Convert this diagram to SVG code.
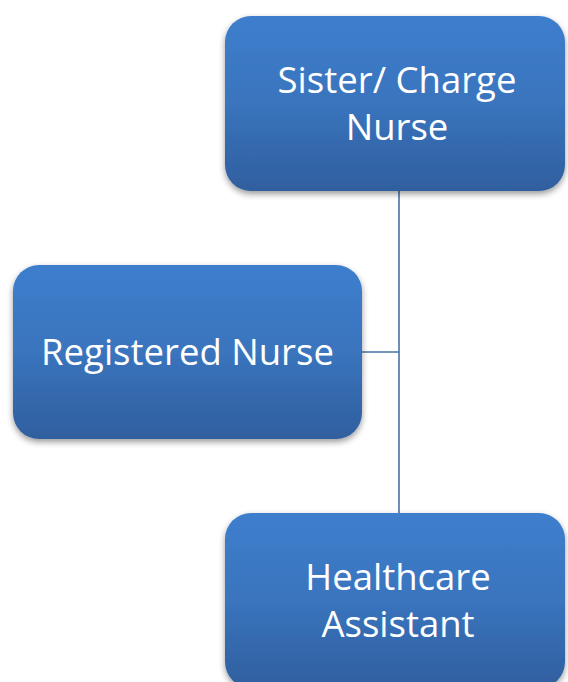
<svg xmlns="http://www.w3.org/2000/svg" width="568" height="682" viewBox="0 0 568 682">
<defs>
<linearGradient id="g" x1="0" y1="0" x2="0" y2="1">
<stop offset="0" stop-color="#3d7ecd"/>
<stop offset="0.5" stop-color="#3a74bd"/>
<stop offset="1" stop-color="#2f5f9e"/>
</linearGradient>
<filter id="sh" x="-10%" y="-10%" width="120%" height="130%">
<feDropShadow dx="0" dy="3" stdDeviation="3" flood-color="#000" flood-opacity="0.4"/>
</filter>
<style>
.box{fill:url(#g);filter:url(#sh);}
.t{font-family:"Open Sans","Noto Sans","Liberation Sans",sans-serif;font-size:36.5px;fill:#ffffff;text-anchor:middle;}
.c{stroke:#4a70a6;stroke-width:1.6;fill:none;}
</style>
</defs>
<rect width="568" height="682" fill="#ffffff"/>
<g id="connectors">
<line class="c" x1="399" y1="190" x2="399" y2="514"/>
<line class="c" x1="361" y1="352" x2="399" y2="352"/>
</g>
<g id="sister">
<rect class="box" x="225" y="16" width="340" height="175" rx="26" ry="26"/>
<text class="t" x="397" y="93">Sister/ Charge</text>
<text class="t" x="397" y="140">Nurse</text>
</g>
<g id="registered">
<rect class="box" x="13" y="265" width="349" height="174" rx="26" ry="26"/>
<text class="t" x="187.5" y="365">Registered Nurse</text>
</g>
<g id="healthcare">
<rect class="box" x="225" y="513" width="340" height="175" rx="26" ry="26"/>
<text class="t" x="398" y="590">Healthcare</text>
<text class="t" x="398" y="637">Assistant</text>
</g>
</svg>
